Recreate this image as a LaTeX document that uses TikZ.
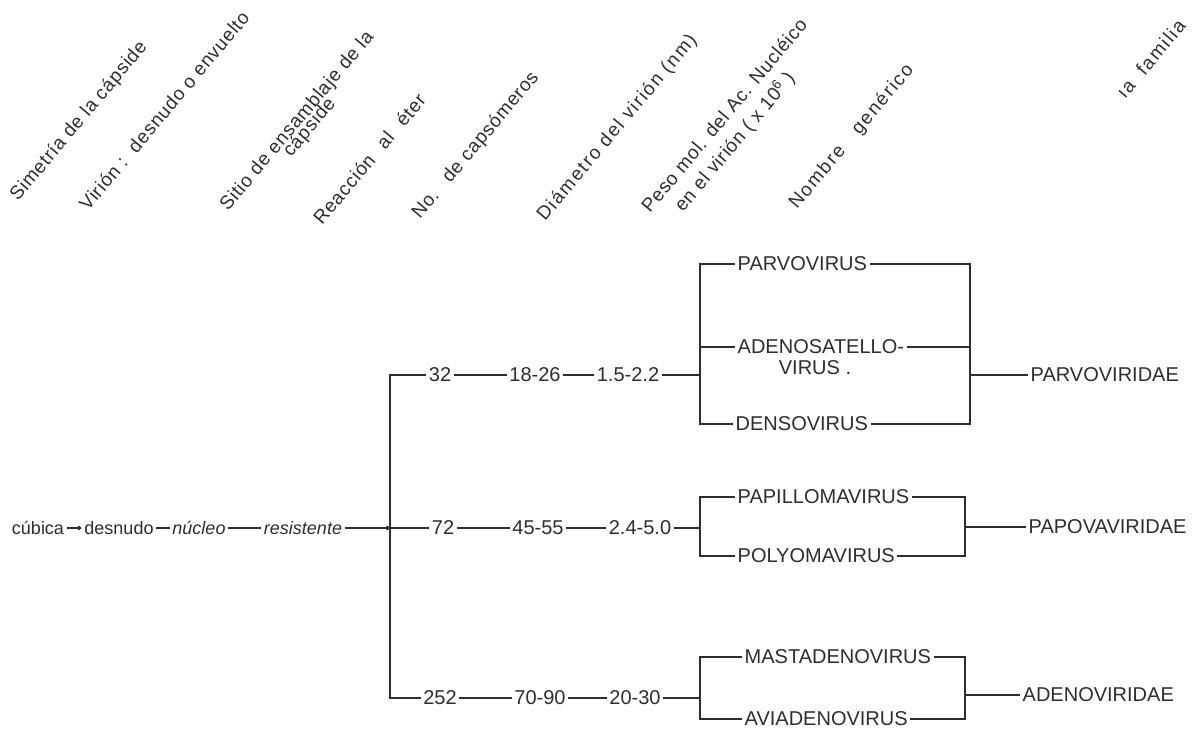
\documentclass[tikz,border=0pt]{standalone}
\usepackage{fontspec}
\setmainfont{Liberation Sans}
\usetikzlibrary{arrows.meta}
\definecolor{ink}{HTML}{2E2E2E}
\begin{document}
\begin{tikzpicture}[x=1pt,y=-1pt,
  every node/.style={text=ink, inner sep=2.5pt},
  taxon/.style={font=\fontsize{20}{20}\selectfont, anchor=west},
  num/.style={font=\fontsize{20}{20}\selectfont},
  chain/.style={font=\fontsize{18}{18}\selectfont},
  hdr/.style={font=\fontsize{19}{19}\selectfont\addfontfeature{LetterSpace=4},
              rotate=50, anchor=base west, inner sep=0pt},
  widehdr/.style={hdr, font=\fontsize{19}{19}\selectfont\addfontfeature{LetterSpace=9}},
  wire/.style={draw=ink, line width=1.2pt},
  tip/.style={-{Straight Barb[length=2.5pt,width=4pt]}},
]
\fill[white] (0,0) rectangle (1203,733);
\useasboundingbox (0,0) rectangle (1203,733);

% column headings
\node[hdr] (h1) at (18,202) {Simetría de la cápside};
\node[hdr] (h2) at (88,212) {Virión :\ \ desnudo o envuelto};
\node[hdr] (h3) at (228,212) {Sitio de ensamblaje de la};
\node[hdr] (h3b) at (291,158) {cápside};
\node[hdr] (h4) at (322,226) {Reacción\hspace{8pt} al\hspace{8pt} éter};
\node[hdr] (h5) at (420,220) {No.\hspace{8pt} de capsómeros};
\node[widehdr] (h6) at (545,222) {Diámetro del virión (nm)};
\node[hdr] (h7) at (650,214) {Peso mol. del Ac. Nucléico};
\node[hdr] (h7b) at (683,213) {en el virión ( x 10\textsuperscript{6} )};
\node[widehdr] (h8) at (797,210) {Nombre\hspace{14pt} genérico};
\node[widehdr] (h9) at (1125,100) {ıa\hspace{6pt} familia};

% characters common to all three families
\node[chain] (c1) at (38,528) {cúbica};
\node[chain] (c2) at (119,528) {desnudo};
\node[chain] (c3) at (199,528) {\itshape núcleo};
\node[chain] (c4) at (303,528) {\itshape resistente};

% trunk
\coordinate (t1) at (390,375);
\coordinate (t2) at (390,528);
\coordinate (t3) at (390,698);

% capsomers, diameter, nucleic acid weight
\node[num] (n32) at (440,375) {32};
\node[num] (d32) at (535,375) {18-26};
\node[num] (w32) at (628,375) {1.5-2.2};
\node[num] (n72) at (443,528) {72};
\node[num] (d72) at (538,528) {45-55};
\node[num] (w72) at (640,528) {2.4-5.0};
\node[num] (n252) at (440,698) {252};
\node[num] (d252) at (540,698) {70-90};
\node[num] (w252) at (635,698) {20-30};

% genera
\node[taxon] (parvo) at (735,264) {PARVOVIRUS};
\node[taxon] (adeno) at (735,347) {ADENOSATELLO-};
\node[num] (adenob) at (815,368) {VIRUS .};
\node[taxon] (denso) at (733,424) {DENSOVIRUS};
\node[taxon] (papi) at (735,497) {PAPILLOMAVIRUS};
\node[taxon] (poly) at (735,556) {POLYOMAVIRUS};
\node[taxon] (masta) at (742,657) {MASTADENOVIRUS};
\node[taxon] (avia) at (742,719) {AVIADENOVIRUS};

% families
\node[taxon] (fparvo) at (1028,375) {PARVOVIRIDAE};
\node[taxon] (fpapo) at (1026,527) {PAPOVAVIRIDAE};
\node[taxon] (fadeno) at (1020,695) {ADENOVIRIDAE};

% bracket corners
\coordinate (a1) at (700,375);
\coordinate (a1t) at (700,264);
\coordinate (a1b) at (700,424);
\coordinate (z1t) at (970,264);
\coordinate (z1b) at (970,424);
\coordinate (z1) at (970,375);
\coordinate (a2) at (700,528);
\coordinate (a2t) at (700,497);
\coordinate (a2b) at (700,556);
\coordinate (z2t) at (965,497);
\coordinate (z2b) at (965,556);
\coordinate (z2) at (965,527);
\coordinate (a3) at (700,698);
\coordinate (a3t) at (700,657);
\coordinate (a3b) at (700,719);
\coordinate (z3t) at (965,657);
\coordinate (z3b) at (965,719);
\coordinate (z3) at (965,695);

% connectors
\draw[wire,tip] (c1) -- (c2);
\draw[wire] (c2) -- (c3);
\draw[wire] (c3) -- (c4);
\draw[wire,tip] (c4) -- (t2);
\draw[wire] (n32.west) -- (t1) -- (t3) -- (n252.west);
\draw[wire] (t2) -- (n72.west);

\draw[wire] (n32) -- (d32);
\draw[wire] (d32) -- (w32);
\draw[wire] (w32) -- (a1);
\draw[wire] (n72) -- (d72);
\draw[wire] (d72) -- (w72);
\draw[wire] (w72) -- (a2);
\draw[wire] (n252) -- (d252);
\draw[wire] (d252) -- (w252);
\draw[wire] (w252) -- (a3);

\draw[wire] (parvo.west) -- (a1t) -- (a1b) -- (denso.west);
\draw[wire] (a1t |- adeno.west) -- (adeno.west);
\draw[wire] (parvo.east) -- (z1t) -- (z1b) -- (denso.east);
\draw[wire] (adeno.east) -- (z1t |- adeno.east);
\draw[wire] (z1) -- (fparvo.west);

\draw[wire] (papi.west) -- (a2t) -- (a2b) -- (poly.west);
\draw[wire] (papi.east) -- (z2t) -- (z2b) -- (poly.east);
\draw[wire] (z2) -- (fpapo.west);

\draw[wire] (masta.west) -- (a3t) -- (a3b) -- (avia.west);
\draw[wire] (masta.east) -- (z3t) -- (z3b) -- (avia.east);
\draw[wire] (z3) -- (fadeno.west);
\end{tikzpicture}
\end{document}
